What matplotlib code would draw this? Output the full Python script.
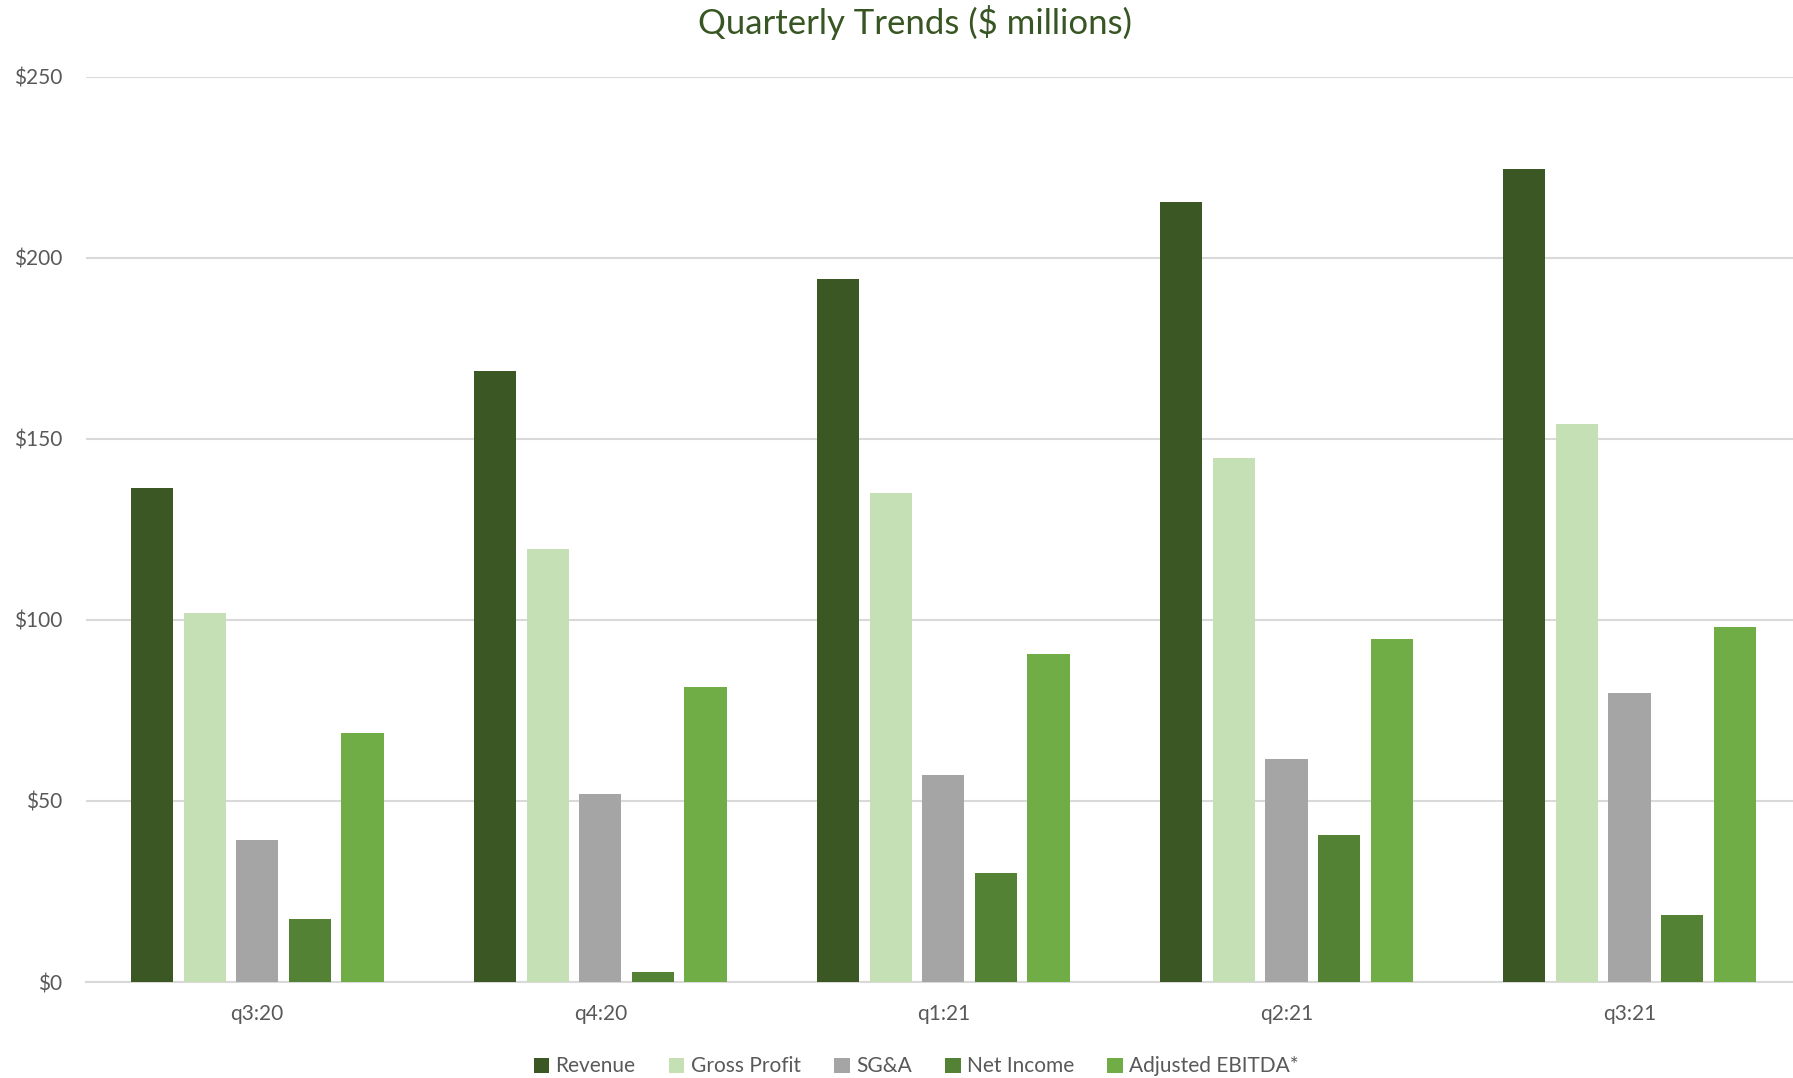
import numpy as np
import matplotlib.pyplot as plt

quarters = ["q3:20", "q4:20", "q1:21", "q2:21", "q3:21"]
revenue = [136.4, 168.6, 194.1, 215.3, 224.4]
gross_profit = [102.0, 119.6, 135.1, 144.6, 154.0]
sga = [39.1, 51.8, 57.1, 61.6, 79.9]
net_income = [17.4, 2.8, 30.0, 40.7, 18.6]
adj_ebitda = [68.8, 81.4, 90.6, 94.7, 97.9]

series = [
    ("Revenue", revenue, "#3A5724"),
    ("Gross Profit", gross_profit, "#C5E0B4"),
    ("SG&A", sga, "#A5A5A5"),
    ("Net Income", net_income, "#548235"),
    ("Adjusted EBITDA*", adj_ebitda, "#70AD47"),
]

plt.rcParams["font.family"] = ["Lato", "DejaVu Sans"]
text_gray = "#595959"
grid_gray = "#D9D9D9"

fig = plt.figure(figsize=(17.93, 10.78), dpi=100)
ax = fig.add_axes([0.0478, 0.089, 0.9567, 0.840])

x = np.arange(len(quarters))
step = 0.1533
width = 0.123
for i, (name, vals, color) in enumerate(series):
    ax.bar(x + (i - 2) * step, vals, width, color=color, label=name, zorder=3)

ax.set_xlim(-0.5, 4.5)
ax.set_ylim(0, 250)
ax.set_yticks(range(0, 251, 50))
ax.set_yticklabels(["${}".format(v) for v in range(0, 251, 50)])
ax.set_xticks(x)
ax.set_xticklabels(quarters)
ax.yaxis.grid(True, color=grid_gray, linewidth=1.5, zorder=0)
ax.tick_params(axis="both", length=0, labelsize=15, colors=text_gray)
ax.tick_params(axis="y", pad=17)
ax.tick_params(axis="x", pad=16)
for s in ["top", "right", "left"]:
    ax.spines[s].set_visible(False)
ax.spines["bottom"].set_color(grid_gray)
ax.spines["bottom"].set_linewidth(1.5)

fig.suptitle("Quarterly Trends ($ millions)", x=0.5105, y=0.995, va="top", fontsize=25, color="#375623")

leg = fig.legend(loc="lower center", bbox_to_anchor=(0.511, -0.016), ncol=5, frameon=False,
                 fontsize=15, handlelength=0.75, handleheight=0.75, handletextpad=0.3,
                 columnspacing=1.6)
for t in leg.get_texts():
    t.set_color(text_gray)

fig.savefig("out.png", dpi=100)
